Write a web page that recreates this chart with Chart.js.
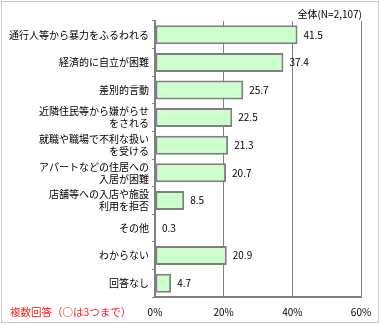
<!DOCTYPE html>
<html>
<head>
<meta charset="utf-8">
<script src="https://cdn.jsdelivr.net/npm/chart.js@4"></script>
<style>
  html, body { margin: 0; padding: 0; background: #fff; }
  #wrap { width: 381px; height: 325px; position: relative; }
</style>
</head>
<body>
<div id="wrap"><canvas id="c" width="381" height="325"></canvas></div>
<script>
// categories (multi-line labels as arrays)
const categories = [
    '通行人等から暴力をふるわれる',
    '経済的に自立が困難',
    '差別的言動',
    ['近隣住民等から嫌がらせ', 'をされる'],
    ['就職や職場で不利な扱い', 'を受ける'],
    ['アパートなどの住居への', '入居が困難'],
    ['店舗等への入店や施設', '利用を拒否'],
    'その他',
    'わからない',
    '回答なし'
];
const values = [41.5, 37.4, 25.7, 22.5, 21.3, 20.7, 8.5, 0.3, 20.9, 4.7];
const xTicks = [0, 20, 40, 60];
const titleText = '全体(N=2,107)';
const noteText = '複数回答（○は3つまで）';

const FONT = '"Noto Sans CJK JP", "Noto Sans", sans-serif';
const GRAY = '#808080';

// frame, title, note and value labels
const decor = {
    id: 'decor',
    beforeDraw(chart) {
        const c = chart.ctx;
        c.save();
        c.fillStyle = '#fff';
        c.fillRect(0, 0, chart.width, chart.height);
        c.strokeStyle = '#c8c8c8';
        c.lineWidth = 1;
        c.strokeRect(1.5, 1.5, 377, 321);
        c.restore();
    },
    afterDatasetsDraw(chart) {
        const c = chart.ctx;
        c.save();
        c.font = '10px ' + FONT;
        c.fillStyle = '#000';
        c.textBaseline = 'middle';
        c.textAlign = 'left';
        chart.getDatasetMeta(0).data.forEach((bar, i) => {
            c.fillText(values[i].toFixed(1), bar.x + 6, bar.y);
        });
        c.textAlign = 'right';
        c.fillText(titleText, 362, 14);
        c.textAlign = 'left';
        c.fillStyle = '#ff2020';
        c.font = '10.5px ' + FONT;
        c.fillText(noteText, 10, 312);
        c.restore();
    }
};

new Chart(document.getElementById('c'), {
    type: 'bar',
    data: {
        labels: categories,
        datasets: [{
            data: values,
            backgroundColor: '#ccffcc',
            borderColor: GRAY,
            borderWidth: 2,
            borderSkipped: false,
            barPercentage: 0.69,
            categoryPercentage: 1
        }]
    },
    options: {
        indexAxis: 'y',
        responsive: false,
        animation: false,
        layout: { padding: { top: 21, right: 20, left: 0, bottom: 0 } },
        plugins: {
            legend: { display: false },
            tooltip: { enabled: false }
        },
        scales: {
            x: {
                min: 0,
                max: 60,
                afterBuildTicks(scale) { scale.ticks = xTicks.map(v => ({ value: v })); },
                afterFit(scale) { scale.height = 28; },
                grid: { color: GRAY, drawTicks: false },
                border: { color: GRAY, width: 2 },
                ticks: {
                    color: '#000',
                    font: { size: 10, family: FONT },
                    padding: 9,
                    maxRotation: 0,
                    callback: v => v + '%'
                }
            },
            y: {
                afterFit(scale) { scale.width = 155; },
                grid: {
                    offset: true,
                    drawOnChartArea: false,
                    drawTicks: true,
                    tickLength: 3,
                    color: GRAY
                },
                border: { color: GRAY, width: 2 },
                ticks: {
                    color: '#000',
                    font: { size: 10, family: FONT, lineHeight: 1.2 },
                    padding: 3,
                    autoSkip: false
                }
            }
        }
    },
    plugins: [decor]
});
</script>
</body>
</html>
